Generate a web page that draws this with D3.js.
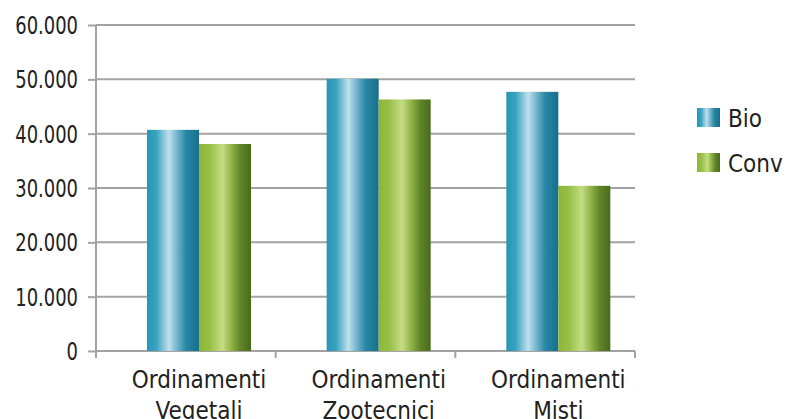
<!DOCTYPE html>
<html>
<head>
<meta charset="utf-8">
<script src="https://cdn.jsdelivr.net/npm/d3@7"></script>
<style>
  html, body { margin: 0; padding: 0; background: #fff; }
  svg { display: block; }
  .tick-label { font-family: "DejaVu Sans Condensed", "DejaVu Sans", sans-serif; font-size: 24px; fill: #222; }
  .cat-label, .legend-label { font-family: "DejaVu Sans Condensed", "DejaVu Sans", sans-serif; font-size: 24px; fill: #222; }
</style>
</head>
<body>
<svg id="chart" width="787" height="419"></svg>
<script>
// Farm categories and average values per system (Bio / Conv)
const categories = ["Ordinamenti Vegetali", "Ordinamenti Zootecnici", "Ordinamenti Misti"];
const categoryLines = [["Ordinamenti", "Vegetali"], ["Ordinamenti", "Zootecnici"], ["Ordinamenti", "Misti"]];
const series = ["Bio", "Conv"];
const bioValues = [40700, 50100, 47700];
const convValues = [38100, 46300, 30400];
const yTicks = [0, 10000, 20000, 30000, 40000, 50000, 60000];
const yTickLabels = ["0", "10.000", "20.000", "30.000", "40.000", "50.000", "60.000"];

const svg = d3.select("#chart");
const plot = { left: 96, right: 635, top: 25, bottom: 351 };

const x = d3.scaleBand().domain(categories).range([plot.left, plot.right]);
const y = d3.scaleLinear().domain([0, 60000]).range([plot.bottom, plot.top]);
const barW = 52;
const groupOffset = 51; // start of the first bar inside each category band
const xs = d3.scaleBand().domain(series).range([0, barW * 2]);

// Gradients that give the bars a cylindrical look
const defs = svg.append("defs");
const gradients = {
  Bio: [[0, "#2596b6"], [0.18, "#3aa2c0"], [0.42, "#bfe0ec"], [0.55, "#7fbcd1"], [0.75, "#2787a5"], [1, "#176f8b"]],
  Conv: [[0, "#8cb63a"], [0.2, "#97bf45"], [0.45, "#c4dd84"], [0.6, "#99ba4e"], [0.8, "#5f8428"], [1, "#4a6b1c"]]
};
Object.entries(gradients).forEach(([key, stops]) => {
  const g = defs.append("linearGradient").attr("id", "grad-" + key)
    .attr("x1", "0%").attr("x2", "100%").attr("y1", "0%").attr("y2", "0%");
  stops.forEach(([o, c]) => g.append("stop").attr("offset", o).attr("stop-color", c));
});

// Horizontal gridlines
svg.append("g").selectAll("line").data(yTicks.filter(d => d > 0)).join("line")
  .attr("x1", plot.left).attr("x2", plot.right)
  .attr("y1", d => y(d)).attr("y2", d => y(d))
  .attr("stroke", "#a3a3a3").attr("stroke-width", 2);

// Y axis
const yAxis = d3.axisLeft(y).tickValues(yTicks).tickSize(8).tickPadding(10)
  .tickFormat((d, i) => yTickLabels[i]);
const gy = svg.append("g").attr("transform", `translate(${plot.left},0)`).call(yAxis);
gy.select(".domain").attr("stroke", "#a3a3a3").attr("stroke-width", 2)
  .attr("d", `M0,${plot.top}V${plot.bottom + 7}`);
gy.selectAll(".tick line").attr("stroke", "#a3a3a3").attr("stroke-width", 2);
// Narrow the tick numerals horizontally, keeping the right edge fixed
const squeeze = 0.83;
gy.selectAll(".tick text").attr("class", "tick-label")
  .attr("x", -18 / squeeze).attr("dy", "0.36em")
  .attr("transform", `scale(${squeeze},1)`);

// X axis baseline with category boundary ticks
const gx = svg.append("g");
gx.append("line").attr("x1", plot.left).attr("x2", plot.right)
  .attr("y1", y(0)).attr("y2", y(0)).attr("stroke", "#a3a3a3").attr("stroke-width", 2);
const boundaries = categories.map(c => x(c) + x.bandwidth()).concat([plot.left]);
gx.selectAll("line.bt").data(boundaries).join("line").attr("class", "bt")
  .attr("x1", d => d).attr("x2", d => d)
  .attr("y1", y(0)).attr("y2", y(0) + 7)
  .attr("stroke", "#a3a3a3").attr("stroke-width", 2);

// Bars
const rows = categories.map((c, i) => ({ cat: c, Bio: bioValues[i], Conv: convValues[i] }));
const groups = svg.append("g").selectAll("g").data(rows).join("g")
  .attr("transform", d => `translate(${x(d.cat) + groupOffset},0)`);
groups.selectAll("rect").data(d => series.map(s => ({ s, v: d[s] }))).join("rect")
  .attr("x", d => xs(d.s)).attr("width", xs.bandwidth())
  .attr("y", d => y(d.v)).attr("height", d => y(0) - y(d.v))
  .attr("fill", d => `url(#grad-${d.s})`);

// Category labels (two lines, centered under each bar pair)
const labels = svg.append("g").selectAll("text").data(categories).join("text")
  .attr("class", "cat-label").attr("text-anchor", "middle")
  .attr("transform", d => `translate(${x(d) + groupOffset + barW},0)`);
labels.each(function (d, i) {
  d3.select(this).selectAll("tspan").data(categoryLines[i]).join("tspan")
    .attr("x", 0).attr("y", (t, j) => 388 + j * 31).text(t => t);
});

// Legend
const legend = svg.append("g").selectAll("g").data(series).join("g")
  .attr("transform", (d, i) => `translate(697,${108 + i * 45})`);
legend.append("rect").attr("width", 23).attr("height", 19)
  .attr("fill", d => `url(#grad-${d})`);
legend.append("text").attr("class", "legend-label")
  .attr("x", 31).attr("y", 19).text(d => d);
</script>
</body>
</html>
